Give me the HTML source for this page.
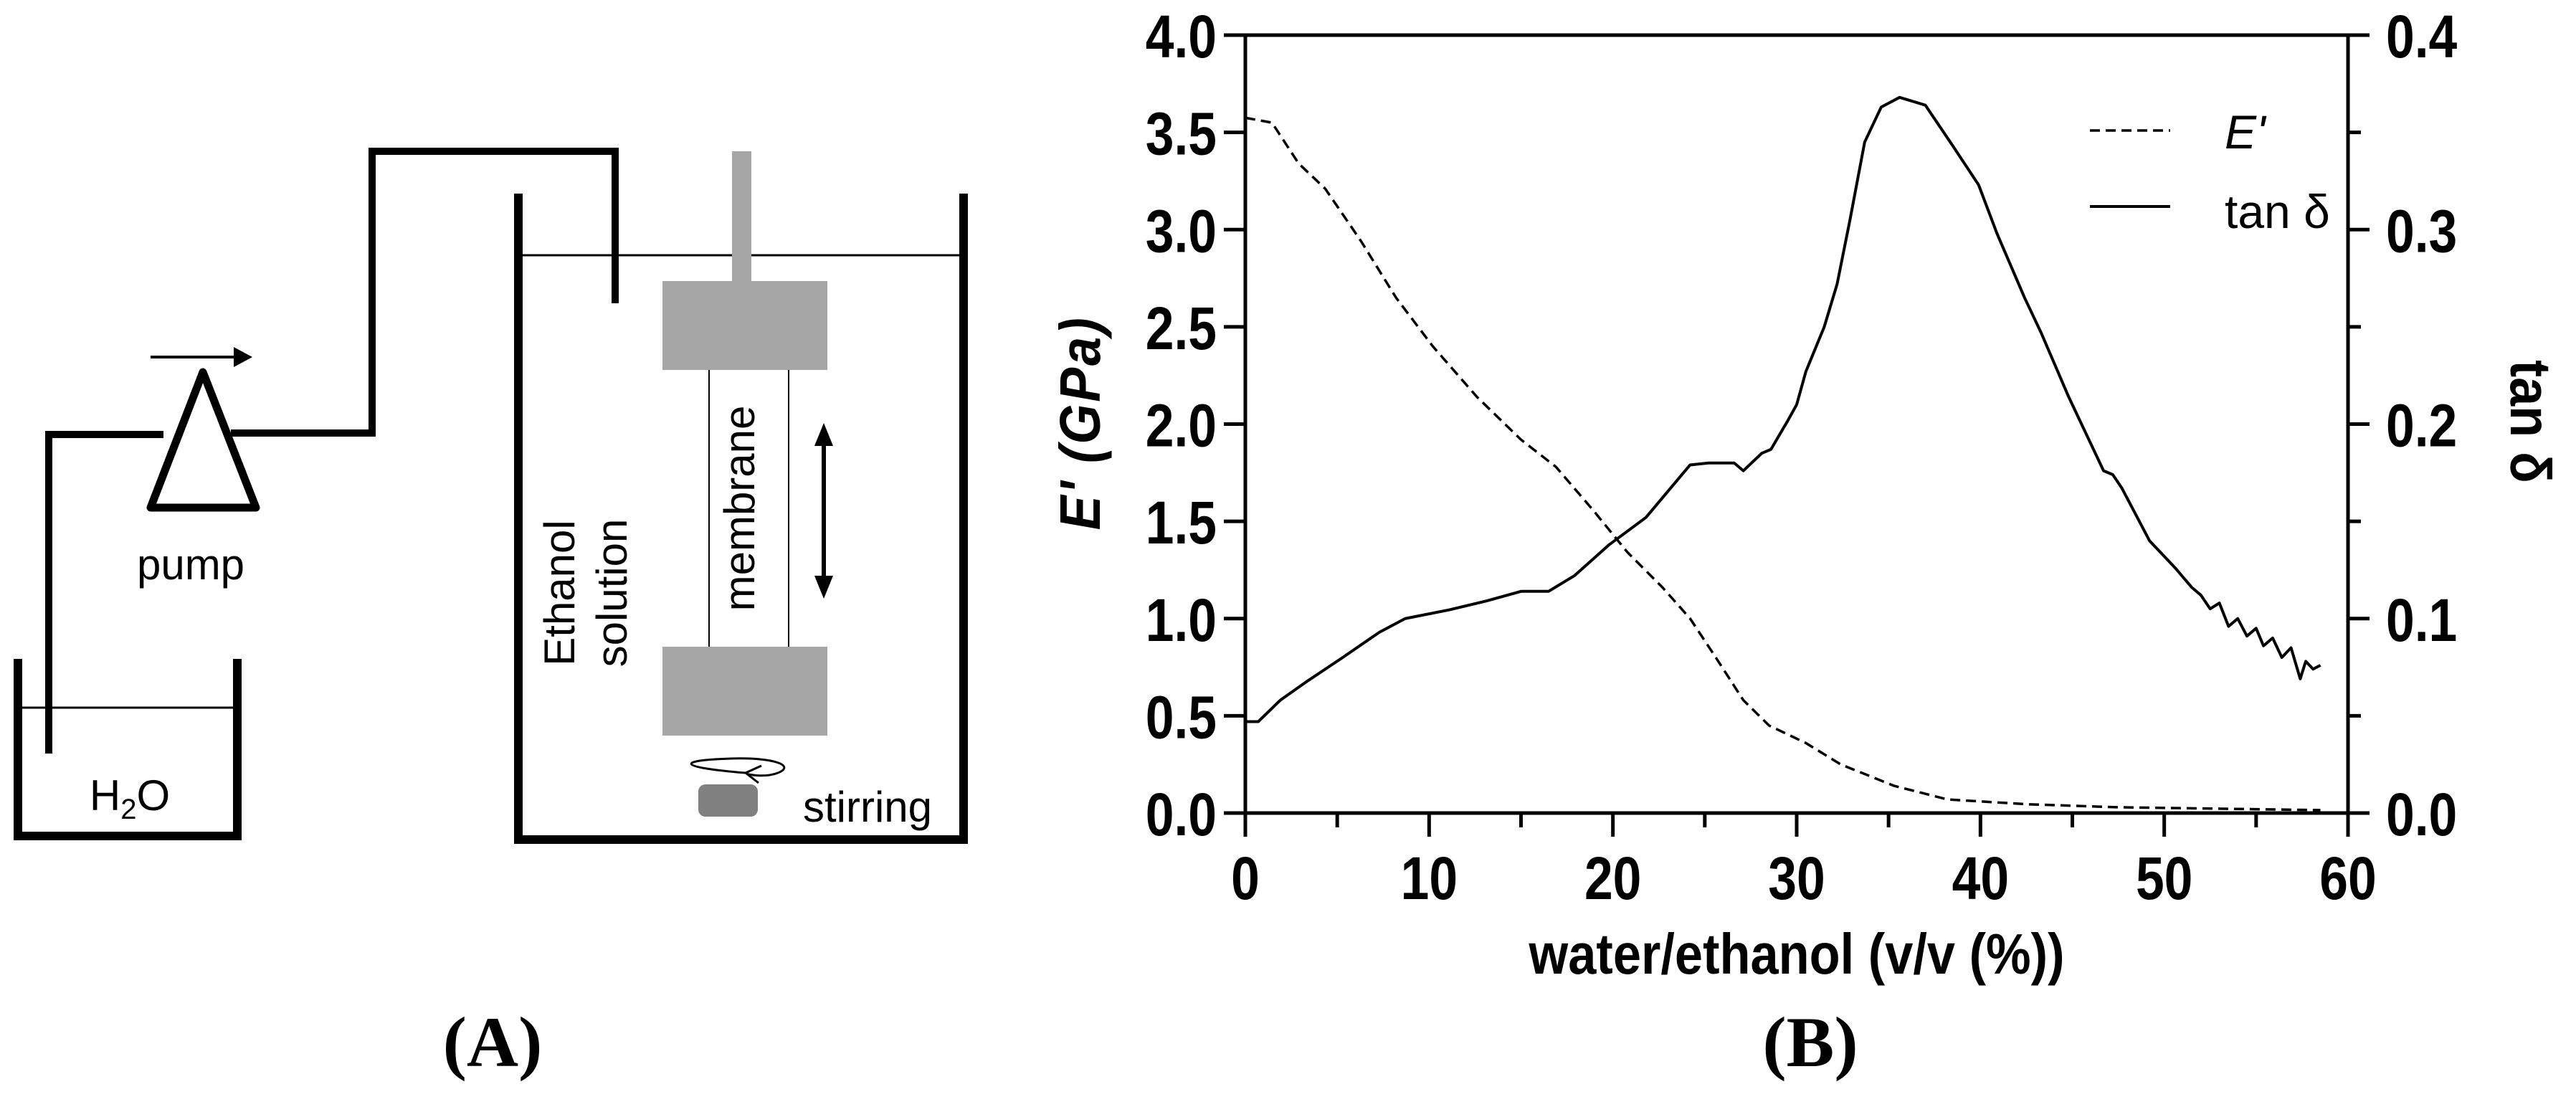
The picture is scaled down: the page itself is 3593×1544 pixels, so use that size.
<!DOCTYPE html>
<html><head><meta charset="utf-8"><style>
html,body{margin:0;padding:0;background:#fff;}
svg{display:block;}
</style></head><body>
<svg id="fig" width="3593" height="1544" viewBox="0 0 3593 1544" xmlns="http://www.w3.org/2000/svg" font-family="Liberation Sans, sans-serif">
<g id="panelA">
  <g stroke="#000" stroke-width="12" fill="none" stroke-linecap="square">
    <polyline points="25,925 25,1166 331,1166 331,925"/>
  </g>
  <line x1="28" y1="987" x2="328" y2="987" stroke="#000" stroke-width="3"/>
  <text x="181" y="1130" font-size="60" text-anchor="middle">H<tspan font-size="40" dy="12">2</tspan><tspan dy="-12">O</tspan></text>
  <g stroke="#000" stroke-width="10" fill="none">
    <polyline points="68,1051 68,606 228,606"/>
    <polyline points="322,604 519,604 519,211 858,211 858,423"/>
  </g>
  <polygon points="283,519 210,708 357,708" fill="none" stroke="#000" stroke-width="11" stroke-linejoin="round"/>
  <g>
    <line x1="210" y1="498" x2="335" y2="498" stroke="#000" stroke-width="4"/>
    <polygon points="352,498 326,484 326,512" fill="#000"/>
  </g>
  <text x="266" y="808" font-size="60" text-anchor="middle">pump</text>
  <g stroke="#000" stroke-width="12" fill="none" stroke-linecap="square">
    <polyline points="723,276 723,1171 1344,1171 1344,276"/>
  </g>
  <line x1="728" y1="356" x2="1340" y2="356" stroke="#000" stroke-width="3"/>
  <rect x="1021" y="211" width="27" height="181" fill="#a6a6a6"/>
  <rect x="924" y="392" width="230" height="124" fill="#a6a6a6"/>
  <rect x="924" y="902" width="230" height="124" fill="#a6a6a6"/>
  <line x1="989" y1="516" x2="989" y2="902" stroke="#000" stroke-width="2"/>
  <line x1="1100" y1="516" x2="1100" y2="902" stroke="#000" stroke-width="2"/>
  <text transform="translate(1052,709) rotate(-90)" font-size="60" text-anchor="middle">membrane</text>
  <text transform="translate(801,827) rotate(-90)" font-size="60" text-anchor="middle">Ethanol</text>
  <text transform="translate(874,827) rotate(-90)" font-size="60" text-anchor="middle">solution</text>
  <g>
    <line x1="1149" y1="610" x2="1149" y2="815" stroke="#000" stroke-width="6"/>
    <polygon points="1149,590 1136,622 1162,622" fill="#000"/>
    <polygon points="1149,835 1136,803 1162,803" fill="#000"/>
  </g>
  <path d="M1040,1078 C 940,1070 945,1060 1020,1058 C 1080,1056 1110,1068 1085,1078 C 1070,1084 1045,1082 1040,1078 M1058,1092 L1040,1078 L1062,1068" fill="none" stroke="#000" stroke-width="3"/>
  <rect x="974" y="1094" width="83" height="45" rx="10" fill="#808080"/>
  <text x="1120" y="1146" font-size="60">stirring</text>
  <text x="687" y="1487" font-size="100" font-weight="bold" font-family="Liberation Serif, serif" text-anchor="middle">(A)</text>
</g>
<g id="chart"></g>
</svg>
<script>
const xValues = [0,1.45,2.9,4.35,6.3,8.2,10.2,12.6,15,16.9,18.9,20.8,22.7,24.2,25.6,27.1,28.5,30.5,32.4,35.3,38.2,42.6,47.4,58.5];
const eValues = [3.575,3.55,3.34,3.21,2.94,2.65,2.40,2.14,1.92,1.78,1.56,1.34,1.16,1.0,0.80,0.58,0.45,0.36,0.25,0.14,0.07,0.045,0.03,0.015];
const tanX = [0,0.7,1.9,3.4,5.3,7.3,8.7,11.1,13.1,15,16.5,17.9,19.8,21.8,24.2,25.2,26.6,27.1,28.1,28.6,29.5,30,30.5,31.5,32.2,32.9,33.7,34.6,35.6,37,38.5,39.9,40.9,42.4,43.3,44.8,45.7,46.7,47.2,47.7,48.2,48.7,49.2,50.1,50.6,51.5,52,52.5,53,53.5,54,54.5,55,55.4,55.9,56.4,56.9,57.4,57.7,58.1,58.5];
const tanValues = [0.047,0.047,0.058,0.068,0.080,0.093,0.100,0.1045,0.109,0.114,0.114,0.122,0.138,0.152,0.179,0.180,0.180,0.176,0.185,0.187,0.2015,0.21,0.227,0.250,0.272,0.305,0.345,0.363,0.368,0.364,0.343,0.323,0.298,0.265,0.247,0.214,0.196,0.176,0.174,0.167,0.158,0.149,0.140,0.131,0.126,0.116,0.112,0.105,0.108,0.096,0.100,0.091,0.095,0.086,0.090,0.080,0.085,0.069,0.078,0.074,0.076];
const xTicks = [0,10,20,30,40,50,60];
const leftTicks = ["0.0","0.5","1.0","1.5","2.0","2.5","3.0","3.5","4.0"];
const rightTicks = ["0.0","0.1","0.2","0.3","0.4"];

const NS = "http://www.w3.org/2000/svg";
const g = document.getElementById('chart');
const X0=1737, X1=3275, Y0=1134, Y1=49;
const sx = v => X0 + v/60*(X1-X0);
const syL = v => Y0 - v/4*(Y0-Y1);
const syR = v => Y0 - v/0.4*(Y0-Y1);
function mk(tag, attrs, parent){const e=document.createElementNS(NS,tag);for(const k in attrs)e.setAttribute(k,attrs[k]);(parent||g).appendChild(e);return e;}

const ax = mk('path',{d:`M${X0},${Y1} L${X0},${Y0+33} M${X0-30},${Y0} L${X1},${Y0} M${X0-30},${Y1} L${X1+30},${Y1} M${X1},${Y1} L${X1},${Y0} L${X1+30},${Y0}`,stroke:'#000','stroke-width':5,fill:'none'});



xTicks.forEach((t,i)=>{
  const x=sx(t);
  const tk=mk('line',{x1:x,y1:Y0,x2:x,y2:Y0+33,stroke:'#000','stroke-width':5});
  
  
  if(i<xTicks.length-1){
    const m=mk('line',{x1:sx(t+5),y1:Y0,x2:sx(t+5),y2:Y0+20,stroke:'#000','stroke-width':5});
    
    
  }
  const tx=mk('text',{transform:`translate(${x},1254) scale(0.85,1)`,'font-size':84,'font-weight':'bold','text-anchor':'middle'});
  tx.textContent=String(t);
  
  
});
leftTicks.forEach(t=>{
  const y=syL(parseFloat(t));
  const tk=mk('line',{x1:X0-30,y1:y,x2:X0,y2:y,stroke:'#000','stroke-width':5});
  
  
  const tx=mk('text',{transform:`translate(1697,${y+31}) scale(0.85,1)`,'font-size':84,'font-weight':'bold','text-anchor':'end'});
  tx.textContent=t;
  
  
});
rightTicks.forEach((t,i)=>{
  const v=parseFloat(t), y=syR(v);
  const tk=mk('line',{x1:X1,y1:y,x2:X1+30,y2:y,stroke:'#000','stroke-width':5});
  
  
  if(i<rightTicks.length-1){
    const ym=syR(v+0.05);
    const m=mk('line',{x1:X1,y1:ym,x2:X1+18,y2:ym,stroke:'#000','stroke-width':5});
    
    
  }
  const tx=mk('text',{transform:`translate(3328,${y+31}) scale(0.85,1)`,'font-size':84,'font-weight':'bold'});
  tx.textContent=t;
  
  
});

const eLine=mk('polyline',{points:xValues.map((x,i)=>sx(x)+','+syL(eValues[i])).join(' '),fill:'none',stroke:'#000','stroke-width':3.5,'stroke-dasharray':'14 8'});


const tLine=mk('polyline',{points:tanX.map((x,i)=>sx(x)+','+syR(tanValues[i])).join(' '),fill:'none',stroke:'#000','stroke-width':4,'stroke-linejoin':'round'});



const yt=mk('text',{transform:'translate(1534,590) rotate(-90) scale(0.9,1)','font-size':80,'font-weight':'bold','font-style':'italic','text-anchor':'middle','letter-spacing':3});
yt.textContent="E' (GPa)";


const yr=mk('text',{transform:'translate(3502,588) rotate(90) scale(0.9,1)','font-size':80,'font-weight':'bold','text-anchor':'middle'});
yr.textContent="tan δ";


const xt=mk('text',{transform:'translate(2506,1358) scale(0.88,1)','font-size':80,'font-weight':'bold','text-anchor':'middle'});
xt.textContent="water/ethanol (v/v (%))";


const pb=mk('text',{x:2525,y:1487,'font-size':100,'font-weight':'bold','font-family':'Liberation Serif, serif','text-anchor':'middle'});
pb.textContent="(B)";



const l1=mk('line',{x1:2915,y1:182,x2:3027,y2:182,stroke:'#000','stroke-width':3.5,'stroke-dasharray':'14 8'});


const lt1=mk('text',{x:3103,y:207,'font-size':66,'font-style':'italic'});
lt1.textContent="E'";


const l2=mk('line',{x1:2915,y1:288,x2:3027,y2:288,stroke:'#000','stroke-width':4});


const lt2=mk('text',{x:3103,y:318,'font-size':66});
lt2.textContent="tan δ";


</script>
</body></html>
